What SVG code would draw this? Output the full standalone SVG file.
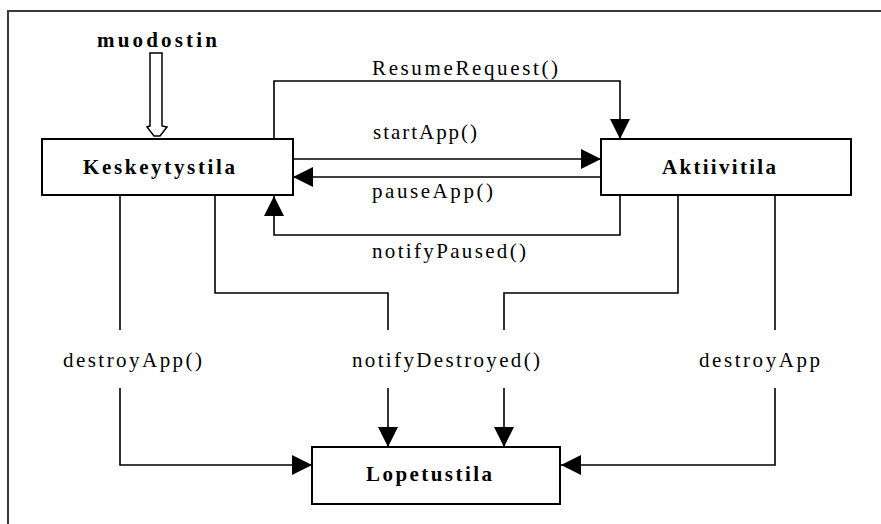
<svg xmlns="http://www.w3.org/2000/svg" width="881" height="524" viewBox="0 0 881 524">
  <style>
    .frame { fill: none; stroke: #3a3a3a; stroke-width: 2; }
    .box { fill: #ffffff; stroke: #000000; stroke-width: 2; }
    .edge { fill: none; stroke: #000000; stroke-width: 1.6; }
    .name { font-family: "Liberation Serif", "Times New Roman", serif; font-size: 21px; font-weight: bold; fill: #000000; }
    .label { font-family: "Liberation Serif", "Times New Roman", serif; font-size: 21px; fill: #000000; }
  </style>
  <defs>
    <marker id="arrow" markerUnits="userSpaceOnUse" markerWidth="20" markerHeight="20" refX="20" refY="10" orient="auto" viewBox="0 0 20 20">
      <path d="M0,0 L20,10 L0,20 Z" fill="#000000"/>
    </marker>
  </defs>

  <rect width="881" height="524" fill="#ffffff"/>
  <!-- outer frame: top and left edges only -->
  <path class="frame" d="M8,524 V11 H881"/>

  <!-- creation entry -->
  <g id="muodostin">
    <text class="name" x="97" y="47" textLength="120" lengthAdjust="spacing">muodostin</text>
    <polygon points="150,53 162,53 162,126 167,127 160,136 154,136 147,127 150,126" fill="#ffffff" stroke="#000000" stroke-width="1.5"/>
  </g>

  <g id="keskeytystila">
    <rect class="box" x="42" y="139" width="251" height="56"/>
    <text class="name" x="83" y="174" textLength="152" lengthAdjust="spacing">Keskeytystila</text>
  </g>

  <g id="aktiivitila">
    <rect class="box" x="601" y="139" width="250" height="56"/>
    <text class="name" x="662" y="174" textLength="114" lengthAdjust="spacing">Aktiivitila</text>
  </g>

  <g id="lopetustila">
    <rect class="box" x="312" y="447" width="248" height="57"/>
    <text class="name" x="366" y="481" textLength="126" lengthAdjust="spacing">Lopetustila</text>
  </g>

  <g id="connectors">
    <path class="edge" d="M274,139 V81 H620 V139" marker-end="url(#arrow)"/>
    <path class="edge" d="M293,159 H601" marker-end="url(#arrow)"/>
    <path class="edge" d="M601,177 H293" marker-end="url(#arrow)"/>
    <path class="edge" d="M620,195 V235 H274 V196" marker-end="url(#arrow)"/>

    <path class="edge" d="M120,195 V330"/>
    <path class="edge" d="M120,388 V465 H312" marker-end="url(#arrow)"/>

    <path class="edge" d="M215,195 V293 H388 V330"/>
    <path class="edge" d="M388,388 V447" marker-end="url(#arrow)"/>

    <path class="edge" d="M678,195 V293 H504 V330"/>
    <path class="edge" d="M504,388 V447" marker-end="url(#arrow)"/>

    <path class="edge" d="M775,195 V330"/>
    <path class="edge" d="M775,388 V465 H561" marker-end="url(#arrow)"/>

    <text class="label" x="372" y="75" textLength="186" lengthAdjust="spacing">ResumeRequest()</text>
    <text class="label" x="373" y="139" textLength="104" lengthAdjust="spacing">startApp()</text>
    <text class="label" x="372" y="198" textLength="121" lengthAdjust="spacing">pauseApp()</text>
    <text class="label" x="372" y="258" textLength="154" lengthAdjust="spacing">notifyPaused()</text>
    <text class="label" x="63" y="367" textLength="139" lengthAdjust="spacing">destroyApp()</text>
    <text class="label" x="352" y="367" textLength="188" lengthAdjust="spacing">notifyDestroyed()</text>
    <text class="label" x="699" y="367" textLength="121" lengthAdjust="spacing">destroyApp</text>
  </g>
</svg>
